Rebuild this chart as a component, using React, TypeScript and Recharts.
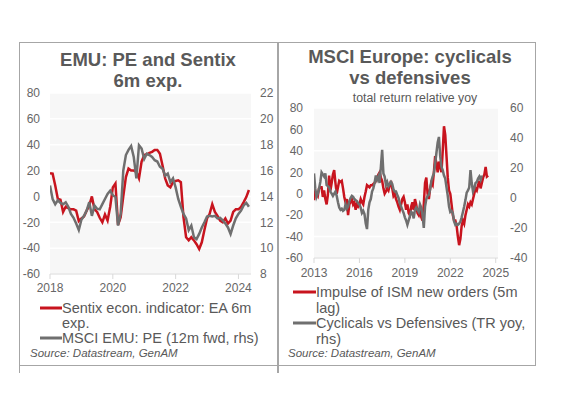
import { LineChart, Line, XAxis, YAxis, CartesianGrid } from "recharts";

// EMU panel: monthly from Jan 2018
const sentixStart = 2018;
const sentix = [
  18, 17.6, 8.5, -2, -2.6, -12, -8, -9, -10, -10, -11, -19,
  -17, -15.5, -11, -7, 0, -10, -12, -16.5, -20, -14, -18.7, -8,
  7, 10, -22, -16, 0, 15, 21.5, 20, 20, 19, 14, 27,
  32, 32.6, 33.7, 34.5, 36, 36, 33, 24, 14, 8.5, 7, 11,
  12, 12.5, 11, -16, -31.6, -34, -31.6, -34, -37, -40.7, -35.5, -26,
  -17, -13.5, -6, -12, -15, -18.7, -20, -17, -21, -18.7, -12, -10,
  -10, -8, -4.4, -0.5, 5,
];
const msciEmuPe = [
  14.85, 13.8, 13.4, 13.7, 13.5, 13.4, 13.55, 13.2, 12.65, 12.35, 11.9, 11.4,
  12.2, 12.5, 12.9, 13.55, 12.5, 13.3, 13.05, 13, 13.4, 13.8, 14.2, 14.45,
  14.1, 13.95, 11.75, 12.65, 16, 17.2, 17.6, 17.9, 17.05, 15.4, 17.96, 17.7,
  16.9, 17.3, 17.2, 17.05, 16.8, 16.7, 16.3, 16.15, 15.6, 15.76, 15.1, 15.4,
  14.7, 13.8, 13.2, 12.65, 12.3, 11.4, 11.75, 10.85, 10.7, 11.1, 11.6, 12,
  12.45, 12.5, 12.45, 12.5, 12.3, 12.35, 12.15, 11.9, 11.6, 11.1, 11.75, 12.3,
  12.65, 12.9, 13.3, 13.5, 13.2,
];
const emuYearTicks = [2018, 2020, 2022, 2024];
const emuLeftTicks = [-60, -40, -20, 0, 20, 40, 60, 80];
const emuRightTicks = [8, 10, 12, 14, 16, 18, 20, 22];

// MSCI Europe panel: monthly from Jan 2013
const ismStart = 2013;
const ismImpulse = [
  -6, 2, 0, -2, 5, 6, 6, -3, 3, -5, -10, -1,
  17, 3, 10, 18, 22, 10, 0, 6, 12, 11, 12, 5,
  -3, -8, -5, -20, -10, -8, -5, -10, -8, -15, -10, -12,
  -10, -5, -8, -10, -3, 2, 8, 7, 6, 8, 8, 9,
  10, 12, 15, 18, 20, 15, 12, 5, 0, 2, 5, 3,
  8, 12, 5, -2, 0, -5, -8, -12, -15, -10, -5, -3,
  -8, -15, -10, -18, -20, -12, -8, -15, -5, -10, -18, -20,
  -15, -22, -25, -10, 10, 15, 0, -5, 5, 10, 8, 20,
  35, 28, 20, 30, 25, 20, 40, 63, 55, 35, 15, 3,
  0, -10, -20, -25, -25, -30, -40, -48, -42, -30, -25, -28,
  -20, -15, -10, -12, -8, -10, -5, 0, 5, 3, 8, 12,
  5, 10, 15, 18, 25, 16, 17,
];
const cyclicalsVsDef = [
  16.4, 6.4, 0.7, 2.9, 6.4, 10.7, 17.1, 15.7, 14.3, 16.4, 8.6, 7.9,
  7.1, 4.3, 2.9, 1.4, 2.9, 4.3, 1.4, -2.9, -6.4, -7.9, -7.1, -8.6,
  -7.9, -4.3, -7.1, -5.7, -2.1, 0, 1.4, 0.7, -0.7, -1.4, -2.1, -3.6,
  -4.3, -6.4, -10, -8.6, -10.7, -17.1, -20.7, -7.9, -2.9, -0.7, 4.3, 6.4,
  10, 15, 12.1, 14.3, 10, 20.7, 32.1, 16.4, 14.3, 8.6, 10.7, 7.9,
  9.3, 10.7, 9.3, 5.7, 4.3, 4.3, 2.1, 0, -3.6, -5.7, -7.9, -10,
  -12.9, -15, -17.9, -15, -12.1, -9.3, -10, -13.6, -7.9, -6.4, -7.9, -9.3,
  -4.3, -6.4, -11.4, -20, -5.7, -0.7, 1.4, 2.1, 5.7, 11.4, 14.3, 16.4,
  22.9, 30, 37.1, 40.7, 27.9, 20.7, 18.6, 15, 12.9, 7.1, 1.4, -5.7,
  -9.3, -8.6, -10, -15.7, -17.9, -17.1, -17.9, -17.1, -15.7, -12.9, -9.3, -5.7,
  -1.4, 3.6, 5, 7.1, 18.6, 10, 4.3, 6.4, 10, 10.7, 12.9, 14.3,
  12.1, 15,
];
const eurYearTicks = [2013, 2016, 2019, 2022, 2025];
const eurLeftTicks = [-60, -40, -20, 0, 20, 40, 60, 80];
const eurRightTicks = [-40, -20, 0, 20, 40, 60];

const emuData = sentix.map((v, i) => ({
  t: sentixStart + i / 12,
  sentix: v,
  pe: msciEmuPe[i] ?? null,
}));
const eurData = ismImpulse.map((v, i) => ({
  t: ismStart + i / 12,
  ism: v,
  cyc: cyclicalsVsDef[i] ?? null,
}));

const RED = "#c8141e";
const GRAY = "#6f6f6f";
const TXT = "#595959";
const AXIS_TXT = "#666";
const FRAME = "#a6a6a6";
const FONT = "'Liberation Sans', Arial, sans-serif";
const tick = { fill: AXIS_TXT, fontSize: 12, fontFamily: FONT };

export default function App() {
  return (
    <div style={{ position: "absolute", left: 0, top: 0, width: 568, height: 399, background: "#fff" }}>
      <div style={{ position: "absolute", left: 0, top: 80 }}>
        <LineChart width={290} height={219} data={emuData} margin={{ top: 13, right: 0, bottom: 0, left: 0 }}>
          <CartesianGrid yAxisId="l" vertical={false} stroke="#fff" strokeWidth={1.5} fill="#f7f7f7" />
          <XAxis
            dataKey="t"
            type="number"
            domain={[2018, 2024.4]}
            ticks={emuYearTicks}
            allowDataOverflow
            stroke="#d9d9d9"
            tickSize={5}
            tickMargin={4}
            height={25}
            tick={tick}
          />
          <YAxis yAxisId="l" domain={[-60, 80]} ticks={emuLeftTicks} width={50} axisLine={false} tickLine={false} tickMargin={4} tick={tick} />
          <YAxis yAxisId="r" orientation="right" domain={[8, 22]} ticks={emuRightTicks} width={39} axisLine={false} tickLine={false} tickMargin={3} tick={tick} />
          <Line yAxisId="l" type="linear" dataKey="sentix" stroke={RED} strokeWidth={2.5} dot={false} isAnimationActive={false} />
          <Line yAxisId="r" type="linear" dataKey="pe" stroke={GRAY} strokeWidth={2.5} dot={false} isAnimationActive={false} />
        </LineChart>
      </div>

      <div style={{ position: "absolute", left: 260, top: 95 }}>
        <LineChart width={280} height={188} data={eurData} margin={{ top: 13, right: 0, bottom: 0, left: 0 }}>
          <CartesianGrid yAxisId="l" vertical={false} stroke="#fff" strokeWidth={1.5} fill="#f7f7f7" />
          <XAxis
            dataKey="t"
            type="number"
            domain={[2013, 2025.15]}
            ticks={eurYearTicks}
            allowDataOverflow
            stroke="#d9d9d9"
            tickSize={5}
            tickMargin={5}
            height={25}
            tick={tick}
          />
          <YAxis yAxisId="l" domain={[-60, 80]} ticks={eurLeftTicks} width={54} axisLine={false} tickLine={false} tickMargin={5} tick={tick} />
          <YAxis yAxisId="r" orientation="right" domain={[-40, 60]} ticks={eurRightTicks} width={42} axisLine={false} tickLine={false} tickMargin={6} tick={tick} />
          <Line yAxisId="l" type="linear" dataKey="ism" stroke={RED} strokeWidth={2.5} dot={false} isAnimationActive={false} />
          <Line yAxisId="r" type="linear" dataKey="cyc" stroke={GRAY} strokeWidth={2.5} dot={false} isAnimationActive={false} connectNulls={false} />
        </LineChart>
      </div>

      <svg width={568} height={399} style={{ position: "absolute", left: 0, top: 0, pointerEvents: "none" }} fontFamily={FONT}>
        {/* frames */}
        <line x1={19.5} y1={42} x2={19.5} y2={373} stroke={FRAME} />
        <line x1={19} y1={42.5} x2={535} y2={42.5} stroke={FRAME} />
        <line x1={19} y1={365.5} x2={535} y2={365.5} stroke={FRAME} />
        <line x1={535.5} y1={42} x2={535.5} y2={366} stroke={FRAME} />
        <line x1={278} y1={42} x2={278} y2={373} stroke={FRAME} strokeWidth={2} />

        {/* titles */}
        <text x={148} y={66} textAnchor="middle" fontSize={18.5} fontWeight="bold" fill={TXT}>EMU: PE and Sentix</text>
        <text x={148} y={87} textAnchor="middle" fontSize={18.5} fontWeight="bold" fill={TXT}>6m exp.</text>
        <text x={410} y={63} textAnchor="middle" fontSize={18.5} fontWeight="bold" fill={TXT}>MSCI Europe: cyclicals</text>
        <text x={410} y={84} textAnchor="middle" fontSize={18.5} fontWeight="bold" fill={TXT}>vs defensives</text>
        <text x={415} y={101.5} textAnchor="middle" fontSize={12.3} fill={TXT}>total return relative yoy</text>

        {/* legends */}
        <line x1={40} y1={308} x2={62} y2={308} stroke={RED} strokeWidth={3} />
        <text x={62} y={313} fontSize={14.5} fill={TXT}>Sentix econ. indicator: EA 6m</text>
        <text x={62} y={328} fontSize={14.5} fill={TXT}>exp.</text>
        <line x1={40} y1={338} x2={62} y2={338} stroke={GRAY} strokeWidth={3} />
        <text x={62} y={343} fontSize={14.5} fill={TXT}>MSCI EMU: PE (12m fwd, rhs)</text>
        <text x={30} y={357} fontSize={11.5} fontStyle="italic" fill={TXT}>Source: Datastream, GenAM</text>

        <line x1={293} y1={292} x2={316} y2={292} stroke={RED} strokeWidth={3} />
        <text x={316} y={297} fontSize={14.5} fill={TXT}>Impulse of ISM new orders (5m</text>
        <text x={316} y={312.5} fontSize={14.5} fill={TXT}>lag)</text>
        <line x1={293} y1={323} x2={316} y2={323} stroke={GRAY} strokeWidth={3} />
        <text x={316} y={328} fontSize={14.5} fill={TXT}>Cyclicals vs Defensives (TR yoy,</text>
        <text x={316} y={343.5} fontSize={14.5} fill={TXT}>rhs)</text>
        <text x={288} y={357} fontSize={11.5} fontStyle="italic" fill={TXT}>Source: Datastream, GenAM</text>
      </svg>
    </div>
  );
}
